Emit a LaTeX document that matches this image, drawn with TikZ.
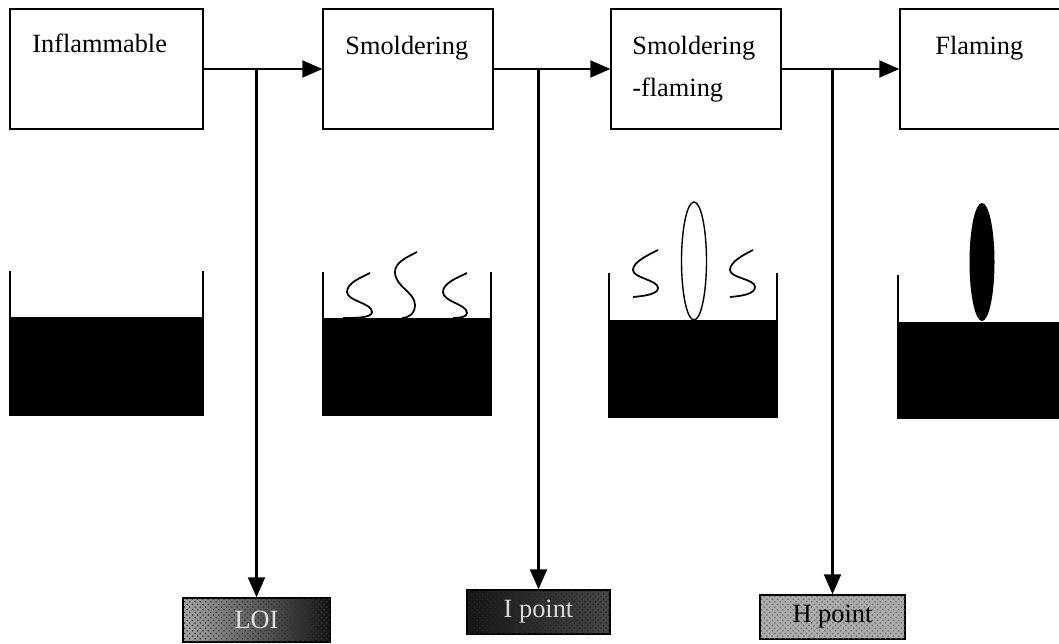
\documentclass[tikz,border=0pt]{standalone}
\usepackage{fontspec}
\setmainfont{Liberation Serif}
\usetikzlibrary{arrows.meta,patterns}

\begin{document}
\begin{tikzpicture}[x=0.02cm,y=-0.02cm,
  stage/.style={draw,line width=0.8pt,minimum height=2.4cm,inner sep=0pt},
  txt/.style={anchor=base west,inner sep=0pt,font=\fontsize{15}{18}\selectfont},
  flow/.style={line width=1.2pt,-{Triangle[length=0.4cm,width=0.34cm]}},
  wall/.style={line width=1.2pt},
  smoke/.style={line width=1pt},
  result/.style={draw,line width=0.8pt,minimum height=0.88cm,inner sep=0pt,
    font=\fontsize{15}{18}\selectfont}]
\useasboundingbox (0,0) rectangle (1059,644);

% Stages of burning
\node[stage,minimum width=3.86cm] (inflam) at (106.5,69) {};
\node[stage,minimum width=3.4cm] (smold) at (408,69) {};
\node[stage,minimum width=3.4cm] (smoflam) at (696,69) {};
\node[stage,minimum width=3.8cm] (flam) at (995,69) {};
\node[txt] (inflamtxt) at (32,53) {Inflammable};
\node[txt] (smoldtxt) at (345,55) {Smoldering};
\node[txt] (smoflamtxt) at (632,55) {Smoldering};
\node[txt] (smoflamtxtb) at (632,97) {-flaming};
\node[txt] (flamtxt) at (935,55) {Flaming};

% Test values between stages (grainy grey boxes)
\node[result,minimum width=2.94cm,left color=gray!70,right color=black!92,text=gray!25,
  postaction={pattern=crosshatch dots,pattern color=gray!40!black}] (loi) at (256.5,620) {LOI};
\node[result,minimum width=2.86cm,left color=black!92,right color=black!72,text=gray!30,
  postaction={pattern=crosshatch dots,pattern color=gray!30!black}] (ipoint) at (538.5,612) {I point};
\node[result,minimum width=2.9cm,fill=gray!65,text=black,
  postaction={pattern=crosshatch dots,pattern color=black!60}] (hpoint) at (832.5,617) {H point};

% Flow along the top and down to the tests
\draw[flow] (inflam) -- (smold);
\draw[flow] (smold) -- (smoflam);
\draw[flow] (smoflam) -- (flam);
\draw[flow] (inflam.east -| loi.north) -- (loi);
\draw[flow] (smold.east -| ipoint.north) -- (ipoint);
\draw[flow] (smoflam.east -| hpoint.north) -- (hpoint);

% Sample cups
\draw[wall] (10,271) -- (10,415) -- (203,415) -- (203,271);
\fill (10,317) rectangle (203,415);
\draw[wall] (323,272) -- (323,415) -- (491,415) -- (491,272);
\fill (323,318) rectangle (491,415);
\draw[wall] (609,273) -- (609,417) -- (777,417) -- (777,273);
\fill (609,320) rectangle (777,417);
\draw[wall] (898,275) -- (898,418) -- (1070,418);
\fill (898,322) rectangle (1070,418);

% Smoke
\draw[smoke] (370,273) .. controls (360,278) and (347,283) .. (347,292) .. controls (347,301) and (372,303) .. (372,312) .. controls (372,318) and (355,318) .. (343,318);
\draw[smoke] (417,252) .. controls (405,258) and (395,263) .. (395,272) .. controls (395,287) and (415,292) .. (415,305) .. controls (415,314) and (408,318) .. (402,318);
\draw[smoke] (467,273) .. controls (457,278) and (443,283) .. (443,292) .. controls (443,302) and (467,304) .. (467,313) .. controls (467,317) and (460,318) .. (453,318);
\draw[smoke] (658,250) .. controls (648,255) and (633,262) .. (633,270) .. controls (633,278) and (658,280) .. (658,288) .. controls (658,294) and (645,296) .. (633,297);
\draw[smoke] (753,250) .. controls (743,255) and (730,262) .. (730,270) .. controls (730,278) and (755,279) .. (755,287) .. controls (755,294) and (742,296) .. (730,297);

% Flames
\draw[line width=0.8pt,fill=white] (694,261) ellipse [x radius=12.5,y radius=59];
\fill (982,262) ellipse [x radius=12.5,y radius=59];
\end{tikzpicture}
\end{document}
